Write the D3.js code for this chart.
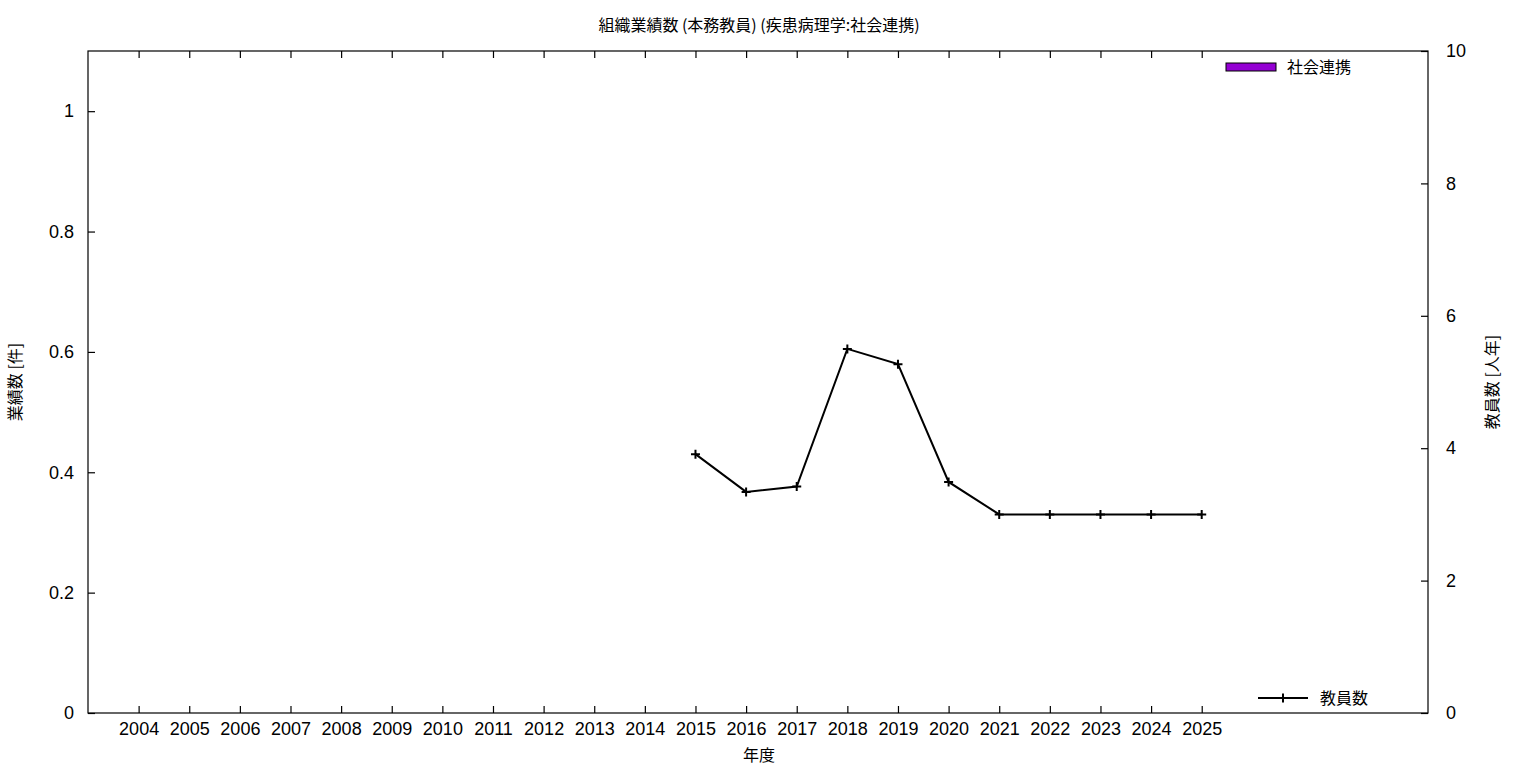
<!DOCTYPE html>
<html><head><meta charset="utf-8">
<script src="https://cdn.jsdelivr.net/npm/d3@7"></script>
<style>
body{margin:0;background:#fff;}
text{font-family:"Liberation Sans","Noto Sans CJK JP",sans-serif;}
.cjk{font-family:"Noto Sans CJK JP",sans-serif;}
</style></head>
<body><svg id="c" width="1536" height="768"></svg>
<script>
const title = "組織業績数 (本務教員) (疾患病理学:社会連携)";
const years = [2004,2005,2006,2007,2008,2009,2010,2011,2012,2013,2014,2015,2016,2017,2018,2019,2020,2021,2022,2023,2024,2025];
const barValues = [0,0,0,0,0,0,0,0,0,0,0,0,0,0,0,0,0,0,0,0,0,0];
const staffYears = [2015,2016,2017,2018,2019,2020,2021,2022,2023,2024,2025];
const staffValues = [3.91,3.34,3.42,5.5,5.27,3.49,3.0,3.0,3.0,3.0,3.0];
const leftTicks = [0,0.2,0.4,0.6,0.8,1];
const rightTicks = [0,2,4,6,8,10];
const barLabel = "社会連携", lineLabel = "教員数";
const xLabel = "年度", yLabel = "業績数 [件]", y2Label = "教員数 [人年]";

const svg = d3.select("#c");
const L=88,R=1428,T=51,B=713;
const x = d3.scaleLinear().domain([2003,2029.47]).range([L,R]);
const y = d3.scaleLinear().domain([0,1.1]).range([B,T]);
const y2 = d3.scaleLinear().domain([0,10]).range([B,T]);

// bars (all zero)
svg.append("g").selectAll("rect").data(years.map((d,i)=>({yr:d,v:barValues[i]}))).join("rect")
  .attr("x",d=>x(d.yr)-20).attr("width",40).attr("y",d=>y(d.v)).attr("height",d=>B-y(d.v))
  .attr("fill","#9400d3").attr("stroke","#000").attr("stroke-width",d=>d.v>0?1:0);

const fmtL = d=> d===0?"0":(d===1?"1":d3.format(".1f")(d));
// left axis
svg.append("g").attr("transform",`translate(${L},0)`)
  .call(d3.axisLeft(y).tickValues(leftTicks).tickFormat(fmtL).tickSizeInner(-7).tickSizeOuter(0).tickPadding(14))
  .call(g=>{g.select(".domain").remove();g.selectAll("text").attr("font-size",18).attr("fill","#000");g.selectAll("line").attr("stroke","#000").attr("stroke-width",1.2);});
// right axis
svg.append("g").attr("transform",`translate(${R},0)`)
  .call(d3.axisRight(y2).tickValues(rightTicks).tickSizeInner(-7).tickSizeOuter(0).tickPadding(18))
  .call(g=>{g.select(".domain").remove();g.selectAll("text").attr("font-size",18).attr("fill","#000");g.selectAll("line").attr("stroke","#000").attr("stroke-width",1.2);});
// bottom axis
svg.append("g").attr("transform",`translate(0,${B})`)
  .call(d3.axisBottom(x).tickValues(years).tickFormat(d3.format("d")).tickSizeInner(-7).tickSizeOuter(0).tickPadding(9))
  .call(g=>{g.select(".domain").remove();g.selectAll("text").attr("font-size",18).attr("fill","#000");g.selectAll("line").attr("stroke","#000").attr("stroke-width",1.2);});
// top mirrored ticks
svg.append("g").attr("transform",`translate(0,${T})`)
  .call(d3.axisTop(x).tickValues(years).tickFormat("").tickSizeInner(-7).tickSizeOuter(0))
  .call(g=>{g.select(".domain").remove();g.selectAll("line").attr("stroke","#000").attr("stroke-width",1.2);});

// frame
svg.append("rect").attr("x",L).attr("y",T).attr("width",R-L).attr("height",B-T)
  .attr("fill","none").attr("stroke","#000").attr("stroke-width",1.2);

// line
const line = d3.line().x(d=>x(d[0])).y(d=>y2(d[1]));
const pts = staffYears.map((d,i)=>[d,staffValues[i]]);
svg.append("path").datum(pts).attr("d",line).attr("fill","none").attr("stroke","#000").attr("stroke-width",2);
const plus = (g,cx,cy)=>{g.append("path").attr("d",`M${cx-4.5},${cy}H${cx+4.5}M${cx},${cy-4.5}V${cy+4.5}`).attr("stroke","#000").attr("stroke-width",2);};
const mg = svg.append("g");
pts.forEach(p=>plus(mg,x(p[0]),y2(p[1])));

// title and labels
svg.append("text").attr("class","cjk").attr("x",759).attr("y",31).attr("text-anchor","middle").attr("font-size",16).text(title);
svg.append("text").attr("class","cjk").attr("x",759).attr("y",761).attr("text-anchor","middle").attr("font-size",16).text(xLabel);
svg.append("text").attr("class","cjk").attr("transform","translate(21,382) rotate(-90)").attr("text-anchor","middle").attr("font-size",16).text(yLabel);
svg.append("text").attr("class","cjk").attr("transform","translate(1498,382) rotate(-90)").attr("text-anchor","middle").attr("font-size",16).text(y2Label);

// legends
svg.append("rect").attr("x",1226).attr("y",63).attr("width",50).attr("height",8).attr("fill","#9400d3").attr("stroke","#000").attr("stroke-width",1);
svg.append("text").attr("class","cjk").attr("x",1287).attr("y",73).attr("font-size",16).text(barLabel);
svg.append("line").attr("x1",1258).attr("x2",1308).attr("y1",698).attr("y2",698).attr("stroke","#000").attr("stroke-width",2);
plus(svg,1283,698);
svg.append("text").attr("class","cjk").attr("x",1320).attr("y",704).attr("font-size",16).text(lineLabel);
</script></body></html>
